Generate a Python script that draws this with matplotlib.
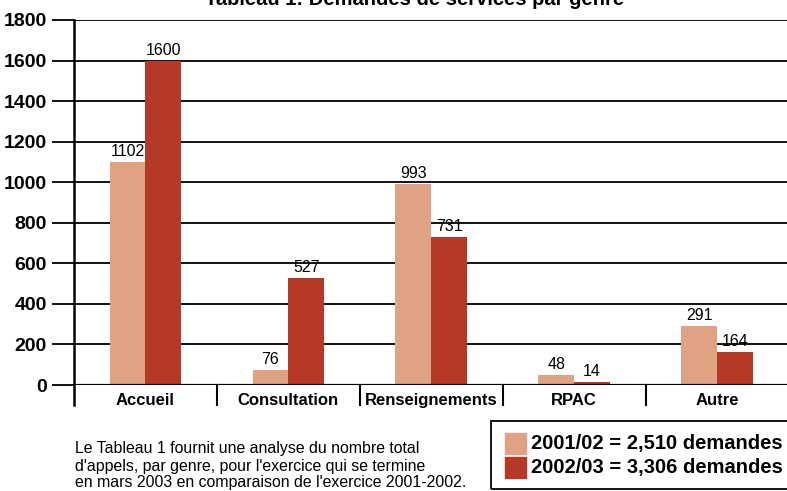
import matplotlib
matplotlib.use("Agg")
import matplotlib.pyplot as plt
import matplotlib.patches as mpatches
import numpy as np

plt.rcParams['font.family'] = ['Liberation Sans', 'DejaVu Sans']

categories = ["Accueil", "Consultation", "Renseignements", "RPAC", "Autre"]
values_2001 = [1102, 76, 993, 48, 291]
values_2002 = [1600, 527, 731, 14, 164]
yticks = [0, 200, 400, 600, 800, 1000, 1200, 1400, 1600, 1800]
title = "Tableau 1: Demandes de services par genre"
legend_labels = ["2001/02 = 2,510 demandes", "2002/03 = 3,306 demandes"]
note_lines = ["Le Tableau 1 fournit une analyse du nombre total",
              "d'appels, par genre, pour l'exercice qui se termine",
              "en mars 2003 en comparaison de l'exercice 2001-2002."]

c_light = "#DFA384"
c_dark = "#B63826"

W, H = 787, 491
fig = plt.figure(figsize=(W / 100, H / 100), dpi=100)
ax = fig.add_axes([74 / W, 1 - 385 / H, 1 - 74 / W, (385 - 20) / H])

x = np.arange(len(categories))
bw = 0.25
b1 = ax.bar(x - bw / 2, values_2001, bw, color=c_light, zorder=3)
b2 = ax.bar(x + bw / 2, values_2002, bw, color=c_dark, zorder=3)
for bars, vals in ((b1, values_2001), (b2, values_2002)):
    for r, v in zip(bars, vals):
        ax.annotate(str(v), (r.get_x() + r.get_width() / 2, v),
                    xytext=(0, 2), textcoords="offset points",
                    ha="center", va="bottom", fontsize=11.5, zorder=4)

ax.set_xlim(-0.5, 4.49)
ax.set_ylim(0, 1800)
ax.set_yticks(yticks)
ax.set_yticklabels([str(t) for t in yticks], fontsize=14, fontweight="bold")
ax.tick_params(axis="y", length=16, width=1.3, pad=3.5, color="black")
ax.set_xticks([])
ax.yaxis.grid(True, color="black", linewidth=1.3, zorder=0)
ax.set_axisbelow(True)
for s in ("top", "right", "bottom", "left"):
    ax.spines[s].set_visible(False)

# axis lines
ax.plot([-0.5, -0.5], [-0.055, 1.0], transform=ax.get_xaxis_transform(),
        color="black", lw=1.8, clip_on=False, zorder=5)
ax.axhline(0, color="black", lw=1.6, zorder=5)
for i in range(1, len(categories)):
    ax.plot([i - 0.5, i - 0.5], [0, -0.055], transform=ax.get_xaxis_transform(),
            color="black", lw=1.5, clip_on=False, zorder=5)
for i, c in enumerate(categories):
    ax.text(i, -0.042, c, transform=ax.get_xaxis_transform(), ha="center",
            va="center", fontsize=12, fontweight="bold")

fig.text(415 / W, 1 - 5 / H, title, ha="center", va="baseline",
         fontsize=14.5, fontweight="bold")

for k, line in enumerate(note_lines):
    fig.text(75 / W, 1 - (449 + 17 * k) / H, line, ha="left", va="center",
             fontsize=11.4)

# legend box
fig.patches.append(mpatches.Rectangle((491 / W, 1 - 489 / H), 0.5, (489 - 421) / H,
                                      transform=fig.transFigure, fill=False,
                                      edgecolor="black", lw=1.3))
for k, (lab, col) in enumerate(zip(legend_labels, [c_light, c_dark])):
    top = 433 + 24 * k
    fig.patches.append(mpatches.Rectangle((505 / W, 1 - (top + 21) / H), 21 / W, 21 / H,
                                          transform=fig.transFigure, color=col))
    fig.text(531 / W, 1 - (top + 10.5) / H, lab, ha="left", va="center",
             fontsize=14.5, fontweight="bold")

fig.savefig("out.png", dpi=100)
